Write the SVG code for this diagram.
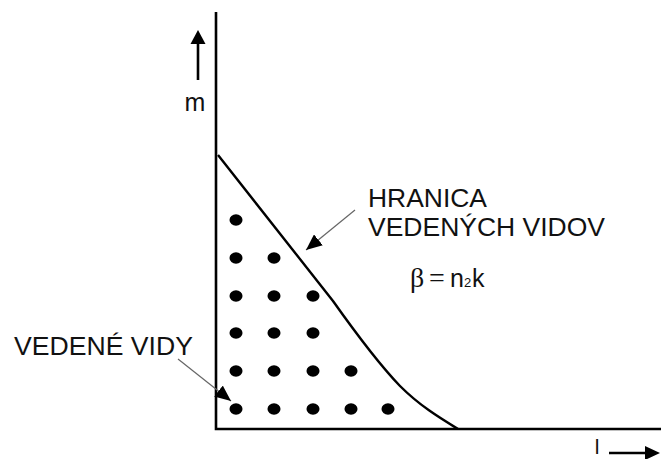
<svg xmlns="http://www.w3.org/2000/svg" width="661" height="459" viewBox="0 0 661 459">
<style>
.ax{stroke:#000;stroke-width:2.6;fill:none}
.crv{stroke:#000;stroke-width:2.4;fill:none;stroke-linejoin:round}
.lead{stroke:#666;stroke-width:1.2;fill:none}
.t{font-family:"Liberation Sans",Arial,sans-serif;font-size:25px;fill:#111}
.dot{fill:#000}
</style>
<defs>
<marker id="ah" viewBox="0 0 16 14" refX="16" refY="7" markerWidth="16" markerHeight="14" markerUnits="userSpaceOnUse" orient="auto">
<path d="M0,0 L16,7 L0,14 Z" fill="#000"/>
</marker>
</defs>
<g id="axes">
<path class="ax" d="M216,12 V429 H661"/>
</g>
<g id="m-arrow">
<line class="ax" x1="198" y1="80" x2="198" y2="42"/>
<polygon points="198,30 190.5,44 205.5,44" fill="#000"/>
<text class="t" x="195" y="111" text-anchor="middle">m</text>
</g>
<g id="l-arrow">
<text x="597" y="454" text-anchor="middle" font-family="'Liberation Sans',Arial,sans-serif" font-size="21" fill="#111">l</text>
<line class="ax" x1="609" y1="453" x2="647" y2="453"/>
<polygon points="660,453 645,446 645,460" fill="#000"/>
</g>
<g id="boundary">
<path class="crv" d="M218,155 L333,301 C350,325 375,360 400,386 C420,406 440,418 458,429"/>
</g>
<g id="dots" class="dot">
<ellipse cx="236" cy="220" rx="6.5" ry="5.8"/>
<ellipse cx="236" cy="258" rx="6.5" ry="5.8"/>
<ellipse cx="274" cy="258" rx="6.5" ry="5.8"/>
<ellipse cx="236" cy="296" rx="6.5" ry="5.8"/>
<ellipse cx="274" cy="296" rx="6.5" ry="5.8"/>
<ellipse cx="313" cy="296" rx="6.5" ry="5.8"/>
<ellipse cx="236" cy="333" rx="6.5" ry="5.8"/>
<ellipse cx="274" cy="333" rx="6.5" ry="5.8"/>
<ellipse cx="313" cy="333" rx="6.5" ry="5.8"/>
<ellipse cx="236" cy="371" rx="6.5" ry="5.8"/>
<ellipse cx="274" cy="371" rx="6.5" ry="5.8"/>
<ellipse cx="313" cy="371" rx="6.5" ry="5.8"/>
<ellipse cx="351" cy="371" rx="6.5" ry="5.8"/>
<ellipse cx="236" cy="409" rx="6.5" ry="5.8"/>
<ellipse cx="274" cy="409" rx="6.5" ry="5.8"/>
<ellipse cx="313" cy="409" rx="6.5" ry="5.8"/>
<ellipse cx="351" cy="409" rx="6.5" ry="5.8"/>
<ellipse cx="388" cy="409" rx="6.5" ry="5.8"/>
</g>
<g id="label-hranica">
<text class="t" x="368" y="207" textLength="119" lengthAdjust="spacingAndGlyphs">HRANICA</text>
<text class="t" x="368" y="236" textLength="237" lengthAdjust="spacingAndGlyphs">VEDENÝCH VIDOV</text>
</g>
<g id="label-beta">
<text x="410" y="287" font-family="'Liberation Serif','Times New Roman',serif" font-size="28" fill="#111">β</text>
<text x="429" y="287" font-family="'Liberation Serif','Times New Roman',serif" font-size="28" fill="#111">=</text>
<text x="450" y="287" font-family="'Liberation Sans',Arial,sans-serif" font-size="25" fill="#111">n</text>
<text x="464" y="287" font-family="'Liberation Sans',Arial,sans-serif" font-size="13" fill="#111">2</text>
<text x="472" y="287" font-family="'Liberation Sans',Arial,sans-serif" font-size="25" fill="#111">k</text>
</g>
<g id="label-vedene">
<text class="t" x="14" y="355" textLength="179" lengthAdjust="spacingAndGlyphs">VEDENÉ VIDY</text>
</g>
<g id="connectors">
<line class="lead" x1="355" y1="210" x2="306" y2="250" marker-end="url(#ah)"/>
<line class="lead" x1="178" y1="359" x2="231" y2="401" marker-end="url(#ah)"/>
</g>
</svg>
